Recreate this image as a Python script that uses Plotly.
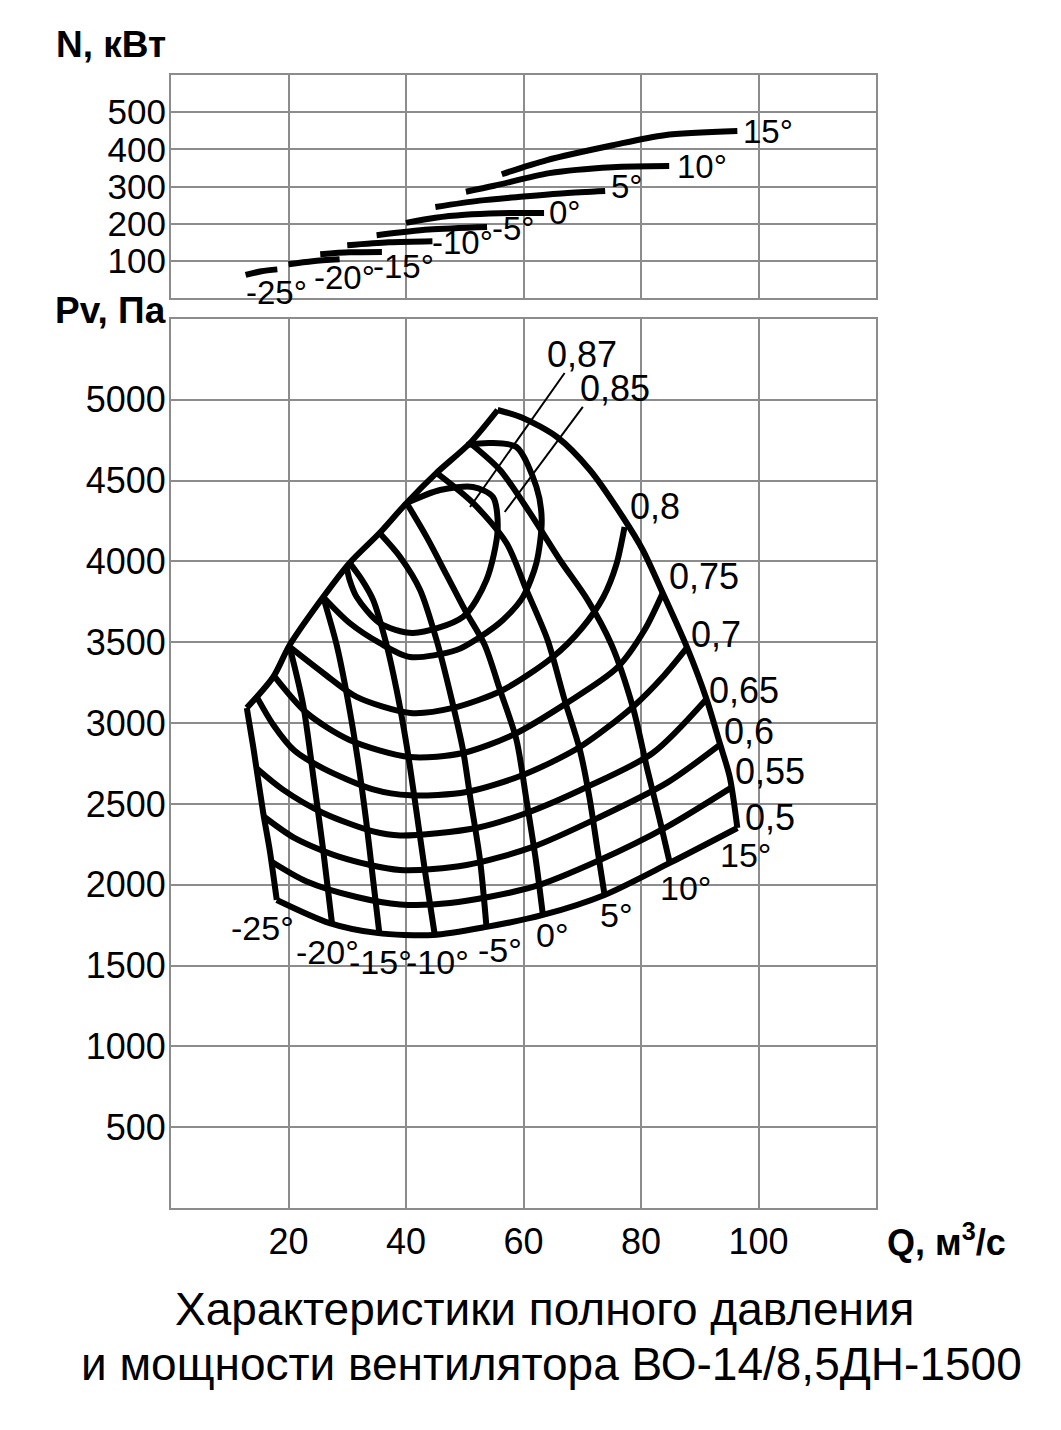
import plotly.graph_objects as go

FONT = "Liberation Sans, Arial, sans-serif"
GRID = "#8c8c8c"

# ---------------- axis ticks ----------------
Q_TICKS = [20, 40, 60, 80, 100]
P_TICKS = [500, 1000, 1500, 2000, 2500, 3000, 3500, 4000, 4500, 5000]
N_TICKS = [100, 200, 300, 400, 500]

# ---------------- Pv(Q) : stall line ----------------
stall_q = [12.9, 17.4, 20.2, 25.9, 30.4, 35.5, 40.1, 45.2, 50.9, 55.6]
stall_p = [3094, 3285, 3483, 3780, 3991, 4176, 4362, 4548, 4733, 4937]

# ---------------- Pv(Q) : blade angle curves ----------------
b_m25_q = [12.9, 14.0, 15.7, 16.8, 18.0]
b_m25_p = [3094, 2852, 2444, 2215, 1906]
b_m20_q = [20.2, 22.5, 24.3, 25.9, 27.4]
b_m20_p = [3471, 3112, 2648, 2215, 1763]
b_m15_q = [25.9, 28.2, 30.1, 31.8, 33.2, 34.4, 35.5]
b_m15_p = [3780, 3483, 3143, 2772, 2401, 2030, 1689]
b_m10_q = [30.4, 32.5, 34.4, 36.7, 38.4, 40.1, 41.5, 43.2, 44.9]
b_m10_p = [3991, 3886, 3762, 3483, 3205, 2865, 2524, 2091, 1689]
b_m5_q = [35.5, 39.0, 42.4, 45.2, 47.8, 49.7, 51.0, 52.6, 53.7]
b_m5_p = [4176, 4028, 3824, 3514, 3143, 2834, 2524, 2153, 1739]
b_0_q = [40.1, 43.5, 46.9, 50.2, 53.4, 56.0, 58.8, 60.5, 62.1, 63.3]
b_0_p = [4362, 4152, 3917, 3688, 3483, 3205, 2896, 2524, 2153, 1813]
b_5_q = [45.2, 51.4, 57.1, 60.5, 64.1, 67.0, 69.6, 71.3, 72.6, 73.8]
b_5_p = [4548, 4362, 4114, 3824, 3514, 3143, 2834, 2524, 2215, 1937]
b_10_q = [50.9, 56.0, 61.1, 66.2, 70.9, 75.0, 78.6, 81.1, 83.2, 84.9]
b_10_p = [4733, 4566, 4300, 4009, 3762, 3483, 3100, 2710, 2401, 2135]
b_15_q = [55.6, 59.9, 65.7, 71.3, 76.9, 80.3, 83.7, 87.8, 91.2, 93.4, 95.1, 96.4]
b_15_p = [4937, 4888, 4770, 4566, 4275, 4071, 3805, 3471, 3143, 2877, 2667, 2351]

# ---------------- Pv(Q) : efficiency contours ----------------
e50_q = [18.0, 27.0, 35.0, 44.6, 53.7, 63.3, 73.8, 84.9, 96.4]
e50_p = [1906, 1763, 1702, 1689, 1739, 1813, 1937, 2135, 2351]
e55_q = [17.2, 23.1, 31.6, 39.0, 47.5, 61.6, 73.0, 84.4, 95.3]
e55_p = [2141, 2020, 1924, 1878, 1887, 1986, 2153, 2358, 2599]
e60_q = [15.9, 21.0, 28.7, 39.0, 50.3, 61.6, 73.0, 84.4, 93.4]
e60_p = [2419, 2290, 2172, 2091, 2122, 2234, 2419, 2630, 2865]
e65_q = [14.5, 19.0, 25.9, 34.4, 39.0, 52.0, 60.5, 70.8, 82.0, 91.0]
e65_p = [2722, 2590, 2444, 2330, 2305, 2351, 2444, 2605, 2815, 3143]
e70_q = [14.6, 17.4, 21.0, 25.9, 34.4, 40.7, 50.3, 59.9, 69.6, 78.6, 84.0, 87.8]
e70_p = [3162, 2990, 2830, 2720, 2590, 2553, 2574, 2679, 2852, 3100, 3298, 3465]
e75_q = [17.7, 23.1, 30.4, 40.7, 49.7, 58.2, 67.4, 75.9, 80.6, 83.7]
e75_p = [3285, 3063, 2896, 2790, 2815, 2927, 3125, 3341, 3576, 3805]
e80_q = [20.2, 25.9, 31.6, 40.7, 48.0, 56.5, 65.0, 70.0, 73.6, 75.8, 77.2]
e80_p = [3471, 3310, 3162, 3063, 3094, 3205, 3409, 3590, 3780, 3980, 4213]
e85_q = [25.9, 30.4, 35.5, 40.7, 48.6, 52.6, 56.5, 59.9, 62.2, 63.1, 62.2, 58.8, 54.3, 50.3]
e85_p = [3780, 3619, 3496, 3409, 3452, 3533, 3638, 3780, 3991, 4257, 4461, 4708, 4733, 4721]
e87_q = [29.9, 30.4, 31.6, 35.5, 41.2, 49.7, 53.7, 55.6, 54.8, 51.4, 45.8, 40.1]
e87_p = [3966, 3886, 3780, 3619, 3558, 3657, 3886, 4195, 4399, 4461, 4442, 4362]

# leader lines for 0,87 and 0,85
lead87_q = [50.9, 67.0]
lead87_p = [4337, 5166]
lead85_q = [56.8, 70.1]
lead85_p = [4306, 4956]

# ---------------- N(Q) : power curves ----------------
n_m25_q = [12.7, 15.4, 18.1]
n_m25_n = [62, 72, 77]
n_m20_q = [20.0, 24.1, 28.7]
n_m20_n = [91, 99, 104]
n_m15_q = [25.4, 30.4, 35.9]
n_m15_n = [118, 123, 124]
n_m10_q = [30.0, 37.1, 44.5]
n_m10_n = [142, 150, 153]
n_m5_q = [35.0, 43.9, 53.8]
n_m5_n = [169, 184, 191]
n_0_q = [40.0, 45.0, 50.0, 56.0, 63.5]
n_0_n = [202, 216, 224, 228, 229]
n_5_q = [45.0, 52.5, 60.0, 67.0, 73.9]
n_5_n = [245, 262, 273, 282, 288]
n_10_q = [50.2, 55.0, 64.4, 75.1, 84.8]
n_10_n = [286, 302, 336, 352, 355]
n_15_q = [56.3, 64.0, 75.2, 84.0, 96.4]
n_15_n = [333, 371, 411, 438, 449]

# ---------------- labels ----------------
ANGLE_TEXT = ["-25°", "-20°", "-15°", "-10°", "-5°", "0°", "5°", "10°", "15°"]
pv_lab_q = [15.5, 26.7, 35.7, 45.4, 56.0, 65.0, 75.9, 87.6, 97.8]
pv_lab_p = [1732, 1584, 1522, 1522, 1596, 1689, 1813, 1980, 2184]
n_lab_q = [17.9, 29.6, 39.5, 49.7, 58.3, 67.0, 77.7, 90.3, 101.7]
n_lab_n = [16, 54, 86, 148, 188, 231, 301, 355, 449]
EFF_TEXT = ["0,5", "0,55", "0,6", "0,65", "0,7", "0,75", "0,8", "0,85", "0,87"]
eff_lab_q = [102.0, 101.9, 98.3, 97.5, 92.7, 90.7, 82.3, 75.5, 69.9]
eff_lab_p = [2413, 2698, 2945, 3199, 3551, 3910, 4337, 5067, 5278]

# ---------------- page geometry (the page body adds an 8 px margin) ----------------
OFF = 8
W, H = 1061 - OFF, 1430 - OFF


def px_x(sx):
    return (sx - OFF) / W


def px_y(sy):
    return 1 - (sy - OFF) / H


fig = go.Figure()


def curve(xs, ys, xa="x", ya="y", w=6):
    fig.add_trace(go.Scatter(x=xs, y=ys, xaxis=xa, yaxis=ya, mode="lines",
                             line=dict(color="black", width=w, shape="spline", smoothing=0.8),
                             hoverinfo="skip", showlegend=False))


for xs, ys in [(stall_q, stall_p), (b_m25_q, b_m25_p), (b_m20_q, b_m20_p), (b_m15_q, b_m15_p),
               (b_m10_q, b_m10_p), (b_m5_q, b_m5_p), (b_0_q, b_0_p), (b_5_q, b_5_p),
               (b_10_q, b_10_p), (b_15_q, b_15_p),
               (e50_q, e50_p), (e55_q, e55_p), (e60_q, e60_p), (e65_q, e65_p), (e70_q, e70_p),
               (e75_q, e75_p), (e80_q, e80_p), (e85_q, e85_p), (e87_q, e87_p)]:
    curve(xs, ys)

curve(lead87_q, lead87_p, w=2)
curve(lead85_q, lead85_p, w=2)

for xs, ys in [(n_m25_q, n_m25_n), (n_m20_q, n_m20_n), (n_m15_q, n_m15_n), (n_m10_q, n_m10_n),
               (n_m5_q, n_m5_n), (n_0_q, n_0_n), (n_5_q, n_5_n), (n_10_q, n_10_n), (n_15_q, n_15_n)]:
    curve(xs, ys, "x2", "y2", 6)


def lab(text, x, y, xref, yref, size):
    return dict(text=text, x=x, y=y, xref=xref, yref=yref, showarrow=False,
                xanchor="center", yanchor="middle",
                font=dict(family=FONT, size=size, color="black"))


ann = []
for t, x, y in zip(ANGLE_TEXT, pv_lab_q, pv_lab_p):
    ann.append(lab(t, x, y, "x", "y", 34))
for t, x, y in zip(EFF_TEXT, eff_lab_q, eff_lab_p):
    ann.append(lab(t, x, y, "x", "y", 36))
for t, x, y in zip(ANGLE_TEXT, n_lab_q, n_lab_n):
    ann.append(lab(t, x, y, "x2", "y2", 33))

ann += [
    lab("<b>N, кВт</b>", px_x(111), px_y(44), "paper", "paper", 37),
    lab("<b>Pv, Па</b>", px_x(110), px_y(311), "paper", "paper", 37),
    lab("<b>Q, м<sup>3</sup>/с</b>", px_x(946), px_y(1240), "paper", "paper", 36),
    lab("Характеристики полного давления", px_x(545), px_y(1309), "paper", "paper", 46),
    lab("и мощности вентилятора ВО-14/8,5ДН-1500", px_x(551), px_y(1364), "paper", "paper", 46),
]

axis_common = dict(showgrid=True, gridcolor=GRID, gridwidth=2, showline=True, mirror=True,
                   linecolor=GRID, linewidth=2, zeroline=False, ticks="",
                   tickfont=dict(family=FONT, size=36, color="black"), fixedrange=True)

fig.update_layout(
    width=W, height=H, margin=dict(l=0, r=0, t=0, b=0),
    paper_bgcolor="white", plot_bgcolor="white", showlegend=False,
    annotations=ann,
    xaxis=dict(domain=[px_x(171), px_x(876)], range=[0, 120], tickvals=Q_TICKS,
               anchor="y", ticklabelstandoff=1, **axis_common),
    yaxis=dict(domain=[px_y(1208), px_y(319)], range=[0, 5500], tickvals=P_TICKS,
               anchor="x", ticklabelstandoff=-4, **axis_common),
    xaxis2=dict(domain=[px_x(171), px_x(876)], range=[0, 120], tickvals=Q_TICKS,
                anchor="y2", showticklabels=False, **axis_common),
    yaxis2=dict(domain=[px_y(298), px_y(75)], range=[0, 600], tickvals=N_TICKS,
                anchor="x2", ticklabelstandoff=-4,
                **{**axis_common, "tickfont": dict(family=FONT, size=35, color="black")}),
)

fig.write_html("out.html")
